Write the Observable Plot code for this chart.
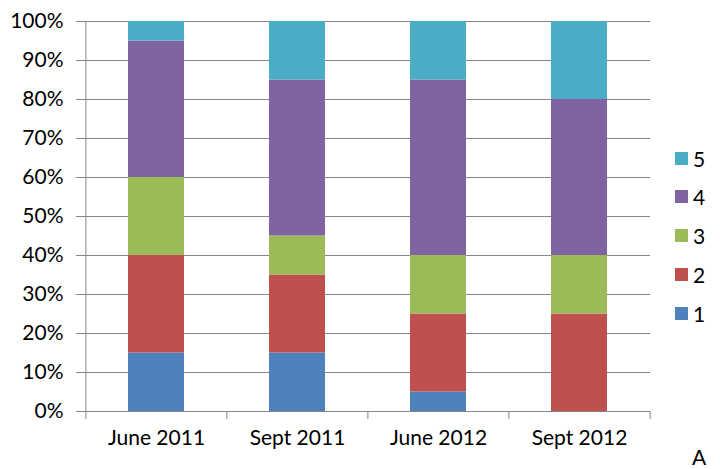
<!DOCTYPE html>
<html>
<head>
<meta charset="utf-8">
<script src="https://cdn.jsdelivr.net/npm/d3@7"></script>
<script src="https://cdn.jsdelivr.net/npm/@observablehq/plot@0.6"></script>
<style>
  html, body { margin: 0; padding: 0; background: #fff; }
  #wrap { position: relative; width: 720px; height: 469px; font-family: Lato, "Open Sans", sans-serif; }
  #legend { position: absolute; left: 675px; top: 0; }
  .item { position: absolute; left: 0; display: flex; align-items: center; height: 22px; font-size: 21px; color: #000; white-space: nowrap; }
  .sw { width: 13px; height: 13px; margin-right: 5px; }
  #tag { position: absolute; left: 692px; top: 444px; font-size: 21px; color: #000; }
</style>
</head>
<body>
<div id="wrap">
  <div id="chart"></div>
  <div id="legend"></div>
  <div id="tag">A</div>
</div>
<script>
const categories = ["June 2011", "Sept 2011", "June 2012", "Sept 2012"];
const seriesNames = ["1", "2", "3", "4", "5"];
const colors = ["#4F81BD", "#C0504D", "#9BBB59", "#8064A2", "#4BACC6"];
const s1 = [0.15, 0.15, 0.05, 0.00];
const s2 = [0.25, 0.20, 0.20, 0.25];
const s3 = [0.20, 0.10, 0.15, 0.15];
const s4 = [0.35, 0.40, 0.45, 0.40];
const s5 = [0.05, 0.15, 0.15, 0.20];
const yTicks = [0, 0.1, 0.2, 0.3, 0.4, 0.5, 0.6, 0.7, 0.8, 0.9, 1];

const seriesValues = [s1, s2, s3, s4, s5];
const data = [];
categories.forEach((c, i) => {
  seriesNames.forEach((s, j) => {
    data.push({category: c, series: s, value: seriesValues[j][i]});
  });
});

const W = 720, H = 469, mL = 85, mR = 70, mT = 21, mB = 58;
const step = (W - mL - mR) / categories.length;
const gray = "#868686";
const last = categories[categories.length - 1];

const chart = Plot.plot({
  width: W,
  height: H,
  marginLeft: mL,
  marginRight: mR,
  marginTop: mT,
  marginBottom: mB,
  style: {fontFamily: "Lato, 'Open Sans', sans-serif", fontSize: "21px", color: "#000", background: "#fff"},
  x: {domain: categories, paddingInner: 0.6, paddingOuter: 0.3, label: null},
  y: {domain: [0, 1], label: null},
  color: {domain: seriesNames, range: colors},
  marks: [
    Plot.gridY(yTicks, {stroke: gray, strokeOpacity: 1, strokeWidth: 1}),
    Plot.barY(data, Plot.stackY({x: "category", y: "value", fill: "series", order: seriesNames})),
    Plot.axisY(yTicks, {tickSize: 9, tickPadding: 13, stroke: gray, tickFormat: d3.format(".0%"), fontSize: 21, fill: "#000", label: null}),
    Plot.ruleX([categories[0]], {x: d => d, dx: -step / 2, y1: 0, y2: 1, stroke: gray}),
    Plot.axisX({tickSize: 0, tickPadding: 19, fontSize: 21, fill: "#000", label: null}),
    Plot.ruleX(categories, {x: d => d, dx: -step / 2, y1: 0, y2: 0, insetBottom: -8, stroke: gray}),
    Plot.ruleX([last], {x: d => d, dx: step / 2, y1: 0, y2: 0, insetBottom: -8, stroke: gray})
  ]
});
document.getElementById("chart").appendChild(chart);

// Legend (right side), top entry = last series
const legend = document.getElementById("legend");
const legendTop = [158, 196, 235, 274, 313];
seriesNames.slice().reverse().forEach((s, k) => {
  const idx = seriesNames.indexOf(s);
  const item = document.createElement("div");
  item.className = "item";
  item.style.top = (legendTop[k] - 11) + "px";
  const sw = document.createElement("span");
  sw.className = "sw";
  sw.style.background = colors[idx];
  const tx = document.createElement("span");
  tx.textContent = s;
  item.appendChild(sw);
  item.appendChild(tx);
  legend.appendChild(item);
});
</script>
</body>
</html>
